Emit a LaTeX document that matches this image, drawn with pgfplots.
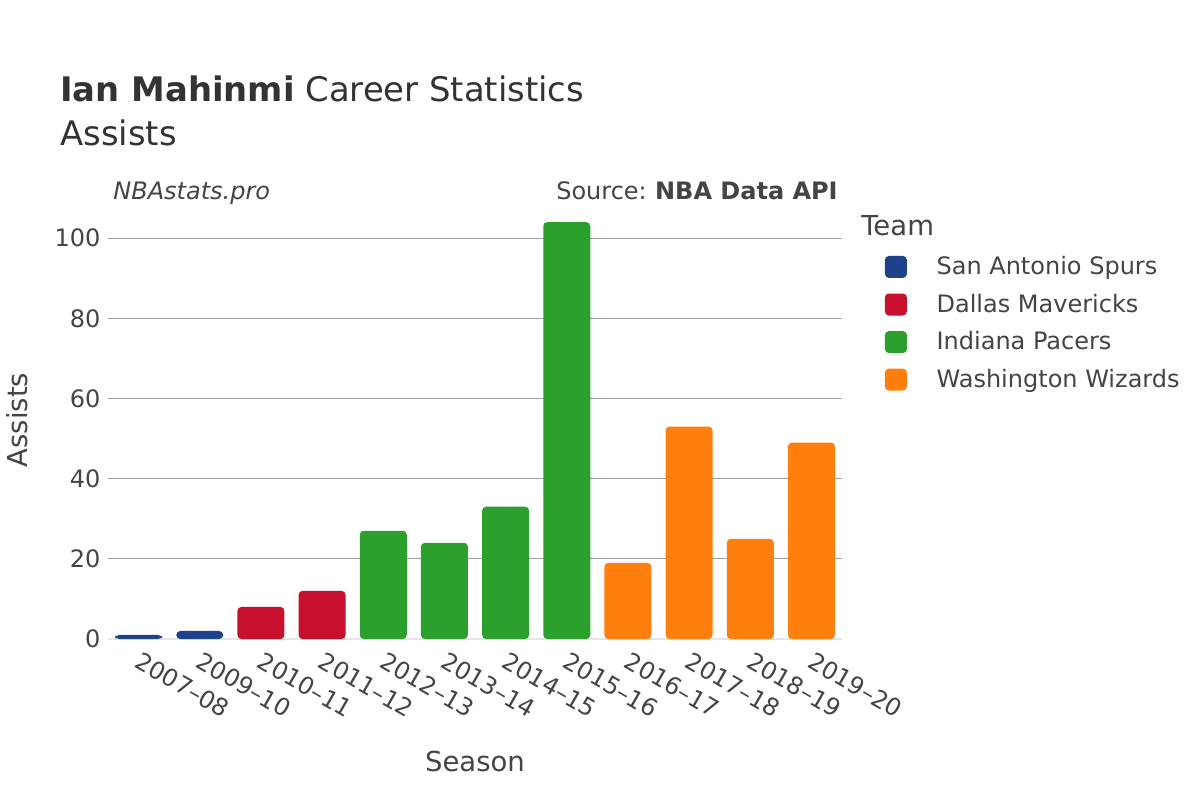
\documentclass[border=0pt]{standalone}
\usepackage{pgfplots}
\pgfplotsset{compat=1.18}
\usepackage{fontspec}
\setmainfont{DejaVu Sans}
\definecolor{spurs}{HTML}{1D428A}
\definecolor{mavs}{HTML}{C8102E}
\definecolor{pacers}{HTML}{2CA02C}
\definecolor{wizards}{HTML}{FF7F0E}
\definecolor{txt}{HTML}{444444}
\definecolor{ttl}{HTML}{333333}
\definecolor{gridc}{HTML}{A0A0A0}
\definecolor{zeroc}{HTML}{E6E6E6}
\newcommand{\fs}[1]{\fontsize{#1}{#1}\selectfont}
\pgfplotsset{myleg/.style={legend image code/.code={\fill[##1, draw=none, rounded corners=2.4pt] (0pt,-6.6pt) rectangle (13.2pt,6.6pt); \path[draw=none, fill=none] (0pt,0pt) -- (21pt,0pt);}}}
\begin{document}
\begin{tikzpicture}[x=1pt,y=1pt]
\path[use as bounding box, fill=white] (0,0) rectangle (720,480);
\begin{axis}[
  at={(64.8pt,96.6pt)}, anchor=south west,
  scale only axis, width=440.4pt, height=263.4pt,
  xmin=-0.5, xmax=11.5, ymin=0, ymax=109.5,
  axis line style={draw=none},
  tick style={draw=none},
  ymajorgrids,
  grid style={color=gridc, line width=0.6pt},
  ytick={20,40,60,80,100},
  extra y ticks={0},
  extra y tick style={grid style={color=zeroc, line width=1.2pt}},
  xtick={0,...,11},
  xticklabels={2007–08,2009–10,2010–11,2011–12,2012–13,2013–14,2014–15,2015–16,2016–17,2017–18,2018–19,2019–20},
  /pgf/number format/assume math mode=true,
  ticklabel style={font=\fs{14.4}, color=txt},
  yticklabel style={xshift=-1pt},
  xticklabel style={rotate=-30, anchor=west, yshift=-7pt, xshift=0pt},
  ybar, bar width=28.2pt,
  every axis plot/.append style={bar shift=0pt, draw=none},
  legend style={at={(axis description cs:1.058,0.8795)}, anchor=north west, draw=none, fill=none,
    inner sep=0pt, row sep=6.1pt, font=\fs{14.4}, text=txt,
    nodes={inner xsep=10pt}},
  legend cell align=left,
]
\addplot[fill=spurs, rounded corners=2.4pt, myleg] coordinates {(0,1) (1,2)};
\addplot[fill=mavs, rounded corners=2.4pt, myleg] coordinates {(2,8) (3,12)};
\addplot[fill=pacers, rounded corners=2.4pt, myleg] coordinates {(4,27) (5,24) (6,33) (7,104)};
\addplot[fill=wizards, rounded corners=2.4pt, myleg] coordinates {(8,19) (9,53) (10,25) (11,49)};
\legend{San Antonio Spurs, Dallas Mavericks, Indiana Pacers, Washington Wizards}
\end{axis}
\node[inner sep=0pt, anchor=base west, text=ttl, font=\fs{20.3}] at (36,418.8) {\textbf{Ian Mahinmi} Career Statistics};
\node[inner sep=0pt, anchor=base west, text=ttl, font=\fs{20.3}] at (36,392.4) {Assists};
\node[inner sep=0pt, anchor=base west, text=txt, font=\fs{14.4}\itshape] at (67.8,360) {NBAstats.pro};
\node[inner sep=0pt, anchor=base east, text=txt, font=\fs{14.4}] at (502.8,360) {Source:\hspace{5pt}\textbf{NBA Data API}};
\node[inner sep=0pt, anchor=base west, text=txt, font=\fs{16.5}] at (516.6,338.4) {Team};
\node[text=txt, font=\fs{16.5}] at (285,23.4) {Season};
\node[text=txt, font=\fs{16.5}, rotate=90] at (10.2,228) {Assists};
\end{tikzpicture}
\end{document}
